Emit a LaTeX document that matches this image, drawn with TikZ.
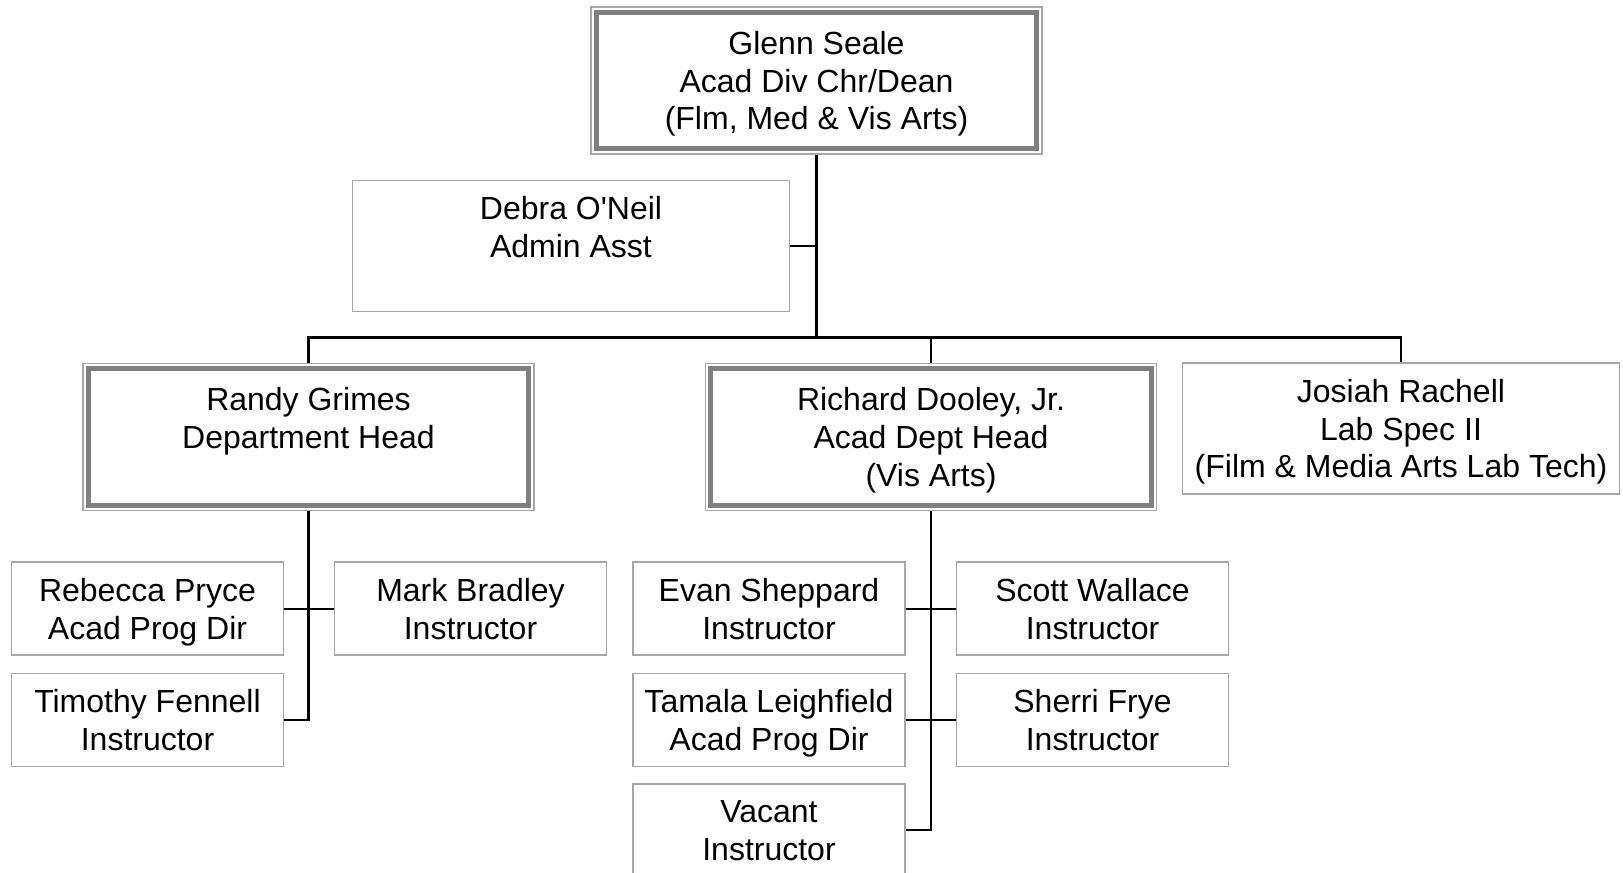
\documentclass[tikz,border=0pt]{standalone}
\usepackage{fontspec}
\setmainfont{Liberation Sans}
\usetikzlibrary{calc}
\definecolor{INK}{HTML}{000000}
\definecolor{FRAME}{HTML}{A6A6A6}
\definecolor{HEAD}{HTML}{808080}

\begin{document}
\begin{tikzpicture}[x=0.5pt,y=-0.5pt]
\tikzset{box/.style={draw=FRAME,line width=0.8pt,align=center,inner sep=0pt,text depth=0pt,
  font=\fontsize{16}{18.9}\selectfont},
 staff/.style={box,minimum width=136pt,minimum height=46.5pt},
 wide/.style={box,minimum width=218.5pt,minimum height=65.5pt},
 headbox/.style={box,minimum width=225.5pt,minimum height=73.5pt},
 thickrim/.style={HEAD,line width=2.4pt},
 link/.style={INK,line width=1.1pt}}
\useasboundingbox (0,0) rectangle (1623,873);
% dean and office
\node[headbox] (glenn) at (816.5,80.5) {Glenn Seale\\Acad Div Chr/Dean\\(Flm, Med \& Vis Arts)};
\node[wide] (debra) at (571,246) {Debra O\textquotesingle Neil\\Admin Asst\\\mbox{}};
\coordinate (bus) at (816.5,337.4);
% department heads
\node[headbox] (randy) at (308.5,436.8) {Randy Grimes\\Department Head\\\mbox{}};
\node[headbox] (richard) at (931,436.8) {Richard Dooley, Jr.\\Acad Dept Head\\(Vis Arts)};
\node[wide] (josiah) at (1401,428.5) {Josiah Rachell\\Lab Spec II\\(Film \& Media Arts Lab Tech)};
\foreach \n in {glenn,randy,richard}
  \draw[thickrim] ([shift={(3pt,-3pt)}]\n.north west) rectangle ([shift={(-3pt,3pt)}]\n.south east);
% staff
\node[staff] (rebecca) at (147.5,608.6) {Rebecca Pryce\\Acad Prog Dir};
\node[staff] (timothy) at (147.5,720) {Timothy Fennell\\Instructor};
\node[staff] (mark) at (470.5,608.6) {Mark Bradley\\Instructor};
\node[staff] (evan) at (769,608.6) {Evan Sheppard\\Instructor};
\node[staff] (tamala) at (769,720) {Tamala Leighfield\\Acad Prog Dir};
\node[staff] (vacant) at (769,830.2) {Vacant\\Instructor};
\node[staff] (scott) at (1092.5,608.6) {Scott Wallace\\Instructor};
\node[staff] (sherri) at (1092.5,720) {Sherri Frye\\Instructor};
% lines
\draw[link] (glenn.south) -- (bus);
\draw[link] (debra.east) -- (debra.east -| bus);
\draw[link] (randy.north) |- (bus) -| (josiah.north);
\draw[link] (richard.north) -- (richard.north |- bus);
\draw[link] (randy.south) |- (timothy.east);
\draw[link] (rebecca.east) -- (mark.west);
\draw[link] (richard.south) |- (vacant.east);
\draw[link] (evan.east) -- (scott.west);
\draw[link] (tamala.east) -- (sherri.west);
\end{tikzpicture}
\end{document}
